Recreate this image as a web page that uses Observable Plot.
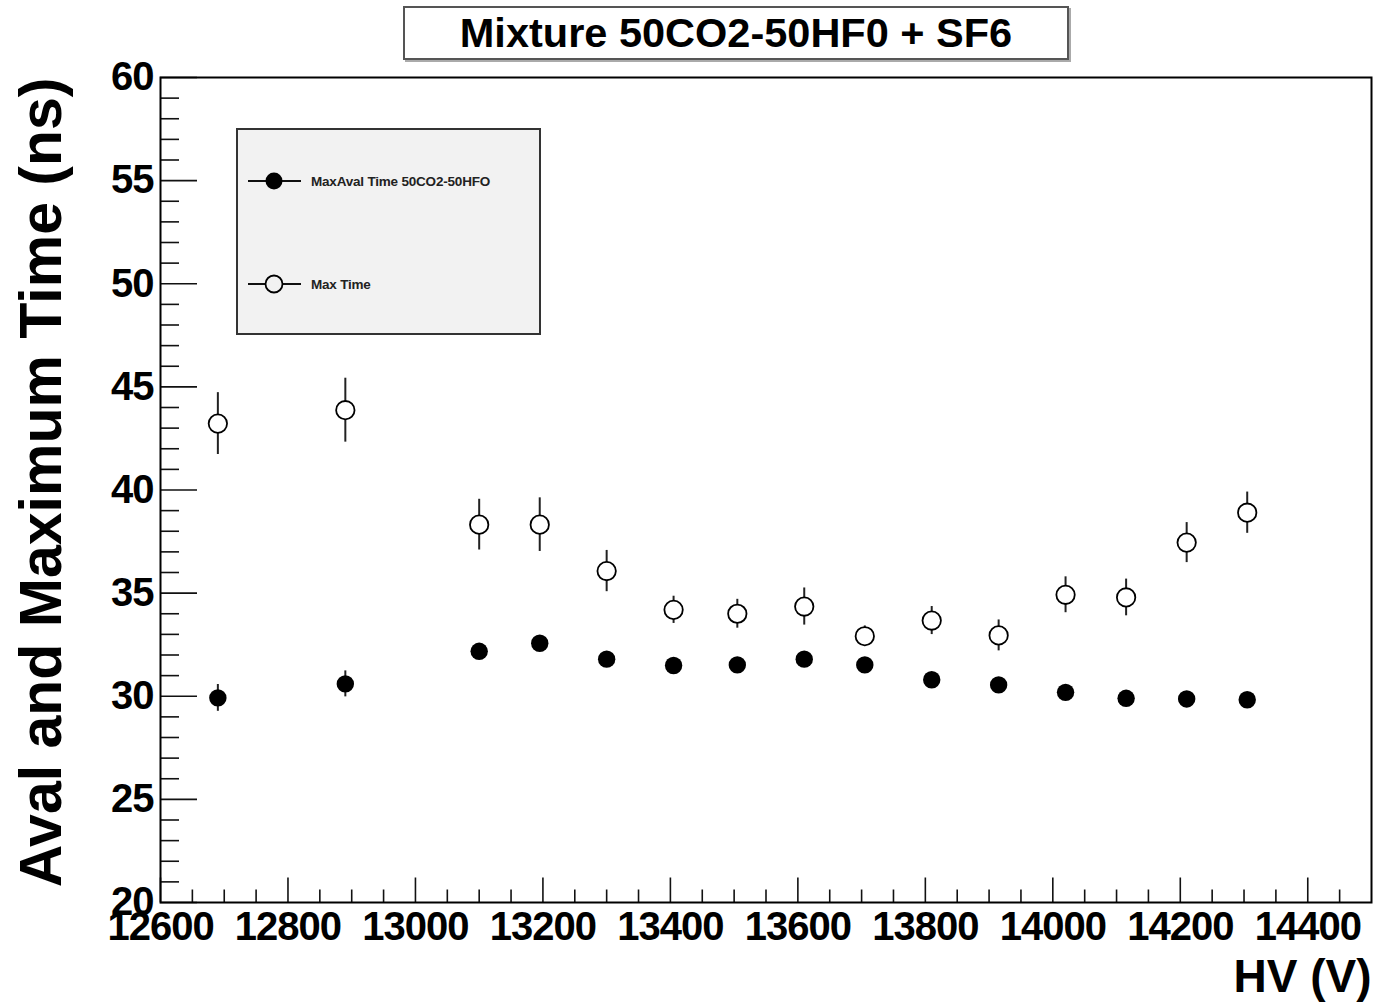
<!DOCTYPE html>
<html><head><meta charset="utf-8">
<script src="https://cdn.jsdelivr.net/npm/d3@7"></script>
<script src="https://cdn.jsdelivr.net/npm/@observablehq/plot@0.6"></script>
<style>
body{margin:0;background:#fff;}
#wrap{position:relative;width:1378px;height:1004px;font-family:"Liberation Sans",Arial,Helvetica,sans-serif;background:#fff;}
#chart svg g[aria-label="x-axis tick label"] text, #chart svg g[aria-label="y-axis tick label"] text{letter-spacing:-1px;}
#title{position:absolute;left:403px;top:6px;width:662px;height:50px;border:2px solid #555;box-shadow:2px 2px 0 #aaa;display:flex;align-items:center;justify-content:center;font-weight:bold;font-size:41.5px;background:#fff;color:#000;}
#legend{position:absolute;left:236px;top:128px;width:301px;height:203px;border:2px solid #333;background:#f2f2f2;}
#legend svg{position:absolute;left:0;top:0;}
</style></head>
<body>
<div id="wrap">
<div id="chart"></div>
<div id="title">Mixture 50CO2-50HF0 + SF6</div>
<div id="legend"></div>
</div>
<script>
// ---- data ----
const hv       = [12690, 12890, 13100, 13195, 13300, 13405, 13505, 13610, 13705, 13810, 13915, 14020, 14115, 14210, 14305];
const avalTime = [29.92, 30.60, 32.18, 32.57, 31.80, 31.49, 31.52, 31.80, 31.52, 30.80, 30.55, 30.19, 29.90, 29.87, 29.83];
const avalErr  = [0.65, 0.63, 0.30, 0.30, 0.30, 0.30, 0.30, 0.30, 0.30, 0.30, 0.30, 0.30, 0.30, 0.30, 0.30];
const maxTime  = [43.22, 43.87, 38.32, 38.32, 36.07, 34.19, 34.00, 34.35, 32.91, 33.67, 32.95, 34.92, 34.79, 37.45, 38.90];
const maxErr   = [1.50, 1.55, 1.23, 1.30, 1.00, 0.66, 0.70, 0.90, 0.50, 0.68, 0.75, 0.87, 0.89, 0.97, 1.00];
const xMajor = [12600, 12800, 13000, 13200, 13400, 13600, 13800, 14000, 14200, 14400];
const xMinor = d3.range(12650, 14500, 50).filter(v => v % 200 !== 0);
const yMajor = [20, 25, 30, 35, 40, 45, 50, 55, 60];
const yMinor = d3.range(21, 60, 1).filter(v => v % 5 !== 0);
const seriesNames = ["MaxAval Time 50CO2-50HFO", "Max Time"];
const xTitle = "HV (V)";
const yTitle = "Aval and Maximum Time (ns)";

const rows = hv.map((v, i) => ({hv: v, aval: avalTime[i], avalErr: avalErr[i], max: maxTime[i], maxErr: maxErr[i]}));

const W = 1378, H = 1004, mL = 160, mR = 7, mT = 77, mB = 102;
const fw = W - mL - mR, fh = H - mT - mB;
const font = '"Liberation Sans", Arial, Helvetica, sans-serif';

const chart = Plot.plot({
  width: W, height: H,
  marginLeft: mL, marginRight: mR, marginTop: mT, marginBottom: mB,
  x: {domain: [12600, 14500]},
  y: {domain: [20, 60]},
  style: {fontFamily: font, background: "white", color: "black"},
  marks: [
    Plot.tickX(xMinor, {stroke: "#111", strokeWidth: 1.6, insetTop: fh - 12.5}),
    Plot.tickX(xMajor, {stroke: "#111", strokeWidth: 1.6, insetTop: fh - 24.5}),
    Plot.tickY(yMinor, {stroke: "#111", strokeWidth: 1.6, insetRight: fw - 19}),
    Plot.tickY(yMajor, {stroke: "#111", strokeWidth: 1.6, insetRight: fw - 37}),
    Plot.axisX(xMajor, {tickSize: 0, tickPadding: 9, fontSize: 40, fontWeight: "bold", tickFormat: "d", label: null}),
    Plot.axisY(yMajor, {tickSize: 0, tickPadding: 7, fontSize: 40, fontWeight: "bold", tickFormat: "d", label: null}),
    Plot.frame({stroke: "#000", strokeWidth: 2}),
    Plot.ruleX(rows, {x: "hv", y1: d => d.max - d.maxErr, y2: d => d.max + d.maxErr, stroke: "#222", strokeWidth: 2}),
    Plot.ruleX(rows, {x: "hv", y1: d => d.aval - d.avalErr, y2: d => d.aval + d.avalErr, stroke: "#222", strokeWidth: 2}),
    Plot.dot(rows, {x: "hv", y: "max", r: 9.2, fill: "white", stroke: "#000", strokeWidth: 1.8}),
    Plot.dot(rows, {x: "hv", y: "aval", r: 8.7, fill: "#000", stroke: "none"}),
    Plot.text([yTitle], {frameAnchor: "top-left", dx: -118, textAnchor: "end", lineAnchor: "middle", rotate: -90, fontSize: 59, fontWeight: "bold", fill: "#000"}),
    Plot.text([xTitle], {frameAnchor: "bottom-right", dy: 75, textAnchor: "end", lineAnchor: "middle", fontSize: 46, fontWeight: "bold", fill: "#000"})
  ]
});
document.getElementById("chart").appendChild(chart);

// ---- legend ----
const lg = d3.select("#legend").append("svg").attr("width", 301).attr("height", 203)
  .style("font-family", font);
const entries = [{name: seriesNames[0], filled: true, cy: 51}, {name: seriesNames[1], filled: false, cy: 154}];
entries.forEach(e => {
  lg.append("line").attr("x1", 10).attr("x2", 63).attr("y1", e.cy).attr("y2", e.cy).attr("stroke", "#111").attr("stroke-width", 1.8);
  lg.append("circle").attr("cx", 36).attr("cy", e.cy).attr("r", 8.5)
    .attr("fill", e.filled ? "#000" : "#f2f2f2").attr("stroke", "#000").attr("stroke-width", e.filled ? 0 : 1.8);
  lg.append("text").attr("x", 73).attr("y", e.cy + 4.5).attr("font-size", 13.5).attr("font-weight", "bold")
    .attr("letter-spacing", "-0.2px").attr("fill", "#222").text(e.name);
});
</script>
</body></html>
